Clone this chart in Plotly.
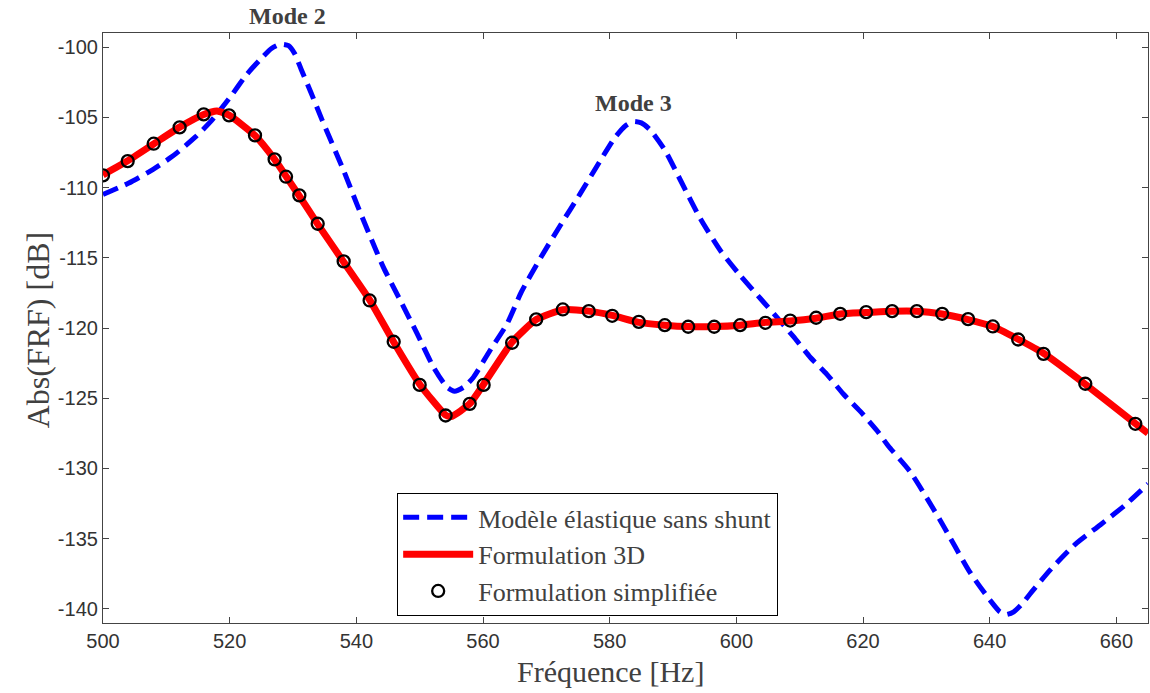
import plotly.graph_objects as go

# Blue dashed: Modèle élastique sans shunt
f_elast = [500.0, 504.0, 507.2, 510.9, 514.6, 517.2, 520.2, 522.6, 524.8, 526.6, 528.0, 529.3, 530.3,
           531.3, 532.8, 534.6, 538.0, 540.1, 542.2, 544.3, 546.9, 549.6, 552.2, 554.3, 555.5,
           557.0, 558.5, 561.1, 563.8, 566.1, 569.1, 572.2, 575.4, 578.5, 580.9, 582.5, 583.7,
           585.0, 586.4, 588.8, 591.2, 594.3, 597.5, 600.5, 603.8, 606.9, 609.0, 611.7, 614.3,
           616.9, 619.5, 622.2, 624.0, 627.4, 632.2, 636.9, 640.1, 641.6, 642.6, 643.8, 645.2,
           646.6, 649.6, 653.5, 657.5, 661.4, 665.0]
v_elast = [-110.5, -109.7, -108.9, -107.8, -106.4, -105.2, -103.5, -102.0, -100.9, -100.1, -99.8, -99.9, -100.5,
           -101.6, -103.2, -105.2, -108.8, -111.2, -113.5, -115.7, -118.0, -120.4, -122.8, -124.2, -124.5,
           -124.2, -123.5, -121.6, -119.7, -117.4, -115.0, -112.7, -110.4, -108.1, -106.4, -105.6, -105.3,
           -105.4, -105.9, -107.4, -109.5, -112.2, -114.5, -116.2, -117.9, -119.5, -120.6, -122.1, -123.3,
           -124.7, -125.9, -127.3, -128.4, -130.2, -133.7, -137.4, -139.4, -140.2, -140.4, -140.2, -139.6,
           -138.8, -137.2, -135.4, -134.0, -132.6, -131.1]

# Red solid: Formulation 3D
f_3d = [500.0, 503.9, 508.0, 512.1, 515.9, 518.0, 519.9, 524.0, 527.1, 528.9, 531.0, 533.9, 538.0,
        542.1, 545.9, 550.0, 554.1, 555.0, 557.9, 560.1, 564.6, 568.4, 572.6, 576.7, 580.4, 584.6,
        588.7, 592.4, 596.5, 600.6, 604.6, 608.5, 612.6, 616.4, 620.5, 624.6, 628.5, 632.5, 636.6,
        640.5, 644.5, 648.5, 655.1, 663.0, 665.0]
v_3d = [-109.1, -108.1, -106.9, -105.7, -104.8, -104.55, -104.85, -106.3, -108.0, -109.2, -110.6, -112.6, -115.3,
        -118.0, -121.0, -124.0, -126.2, -126.3, -125.4, -124.0, -121.0, -119.4, -118.7, -118.8, -119.1, -119.6,
        -119.8, -119.9, -119.9, -119.8, -119.6, -119.5, -119.3, -119.0, -118.9, -118.8, -118.8, -119.0, -119.4,
        -119.9, -120.8, -121.8, -124.0, -126.8, -127.5]

# Black circles: Formulation simplifiée
f_simp = [500.0, 503.9, 508.0, 512.1, 515.9, 519.9, 524.0, 527.1, 528.9, 531.0, 533.9, 538.0, 542.1,
          545.9, 550.0, 554.1, 557.9, 560.1, 564.6, 568.4, 572.6, 576.7, 580.4, 584.6, 588.7, 592.4,
          596.5, 600.6, 604.6, 608.5, 612.6, 616.4, 620.5, 624.6, 628.5, 632.5, 636.6, 640.5, 644.5,
          648.5, 655.1, 663.0]
v_simp = [-109.14, -108.12, -106.88, -105.72, -104.79, -104.86, -106.29, -108.0, -109.23, -110.56, -112.58, -115.26, -118.04,
          -120.98, -124.05, -126.23, -125.40, -124.05, -121.05, -119.39, -118.68, -118.80, -119.13, -119.56, -119.80, -119.91,
          -119.91, -119.80, -119.63, -119.47, -119.27, -118.99, -118.87, -118.80, -118.80, -118.99, -119.37, -119.89, -120.82,
          -121.84, -123.97, -126.82]

x_ticks = [500, 520, 540, 560, 580, 600, 620, 640, 660]
y_ticks = [-100, -105, -110, -115, -120, -125, -130, -135, -140]

fig = go.Figure()
fig.add_trace(go.Scatter(x=f_elast, y=v_elast, mode="lines", name="Modèle élastique sans shunt",
                         line=dict(color="rgb(0,0,255)", width=5, dash="16px,8px", shape="spline", smoothing=0.6)))
fig.add_trace(go.Scatter(x=f_3d, y=v_3d, mode="lines", name="Formulation 3D",
                         line=dict(color="rgb(255,0,0)", width=7, shape="spline", smoothing=0.5)))
fig.add_trace(go.Scatter(x=f_simp, y=v_simp, mode="markers", name="Formulation simplifiée",
                         marker=dict(symbol="circle-open", size=12, color="black", line=dict(color="black", width=2.3))))

serif = "Liberation Serif"
fig.add_annotation(x=529.1, y=1.029, yref="paper", text="<b>Mode 2</b>", showarrow=False,
                   xanchor="center", yanchor="middle", borderpad=0,
                   font=dict(family=serif, size=24, color="#404040"))
fig.add_annotation(x=583.7, y=-104.0, text="<b>Mode 3</b>", showarrow=False,
                   xanchor="center", yanchor="middle",
                   font=dict(family=serif, size=24, color="#404040"))
# axis titles
fig.add_annotation(x=0.4853, y=-0.083, xref="paper", yref="paper", text="Fréquence [Hz]", showarrow=False,
                   font=dict(family=serif, size=30, color="#404040"), xanchor="center", yanchor="middle")
fig.add_annotation(x=-0.0619, y=0.4966, xref="paper", yref="paper", text="Abs(FRF) [dB]", showarrow=False,
                   textangle=-90, font=dict(family=serif, size=32, color="#404040"),
                   xanchor="center", yanchor="middle")

axis_common = dict(showgrid=False, zeroline=False, showline=True, linecolor="#444444", linewidth=1.2,
                   mirror="ticks", ticks="inside", ticklen=6, tickcolor="#444444", tickwidth=1,
                   automargin=False,
                   tickfont=dict(family="Liberation Sans", size=20, color="#333333"))

fig.update_xaxes(range=[500, 665], tickvals=x_ticks, ticktext=[str(t) for t in x_ticks], **axis_common)
fig.update_yaxes(range=[-141, -99], tickvals=y_ticks, ticktext=[str(t) for t in y_ticks], **axis_common)

fig.update_layout(
    width=1150, height=693,
    margin=dict(l=103, r=2, t=33, b=70, autoexpand=False),
    paper_bgcolor="white", plot_bgcolor="white",
    showlegend=True,
    legend=dict(x=0.2815, y=0.2204, xanchor="left", yanchor="top",
                bgcolor="white", bordercolor="black", borderwidth=1,
                font=dict(family=serif, size=26, color="#404040"),
                tracegroupgap=0, itemwidth=70),
)

# remove the default 8px page margin so the figure fills the 1150x693 window exactly
fig.write_html("out.html", config={"displayModeBar": False},
               post_script="document.body.style.margin='0';document.body.style.overflow='hidden';")
